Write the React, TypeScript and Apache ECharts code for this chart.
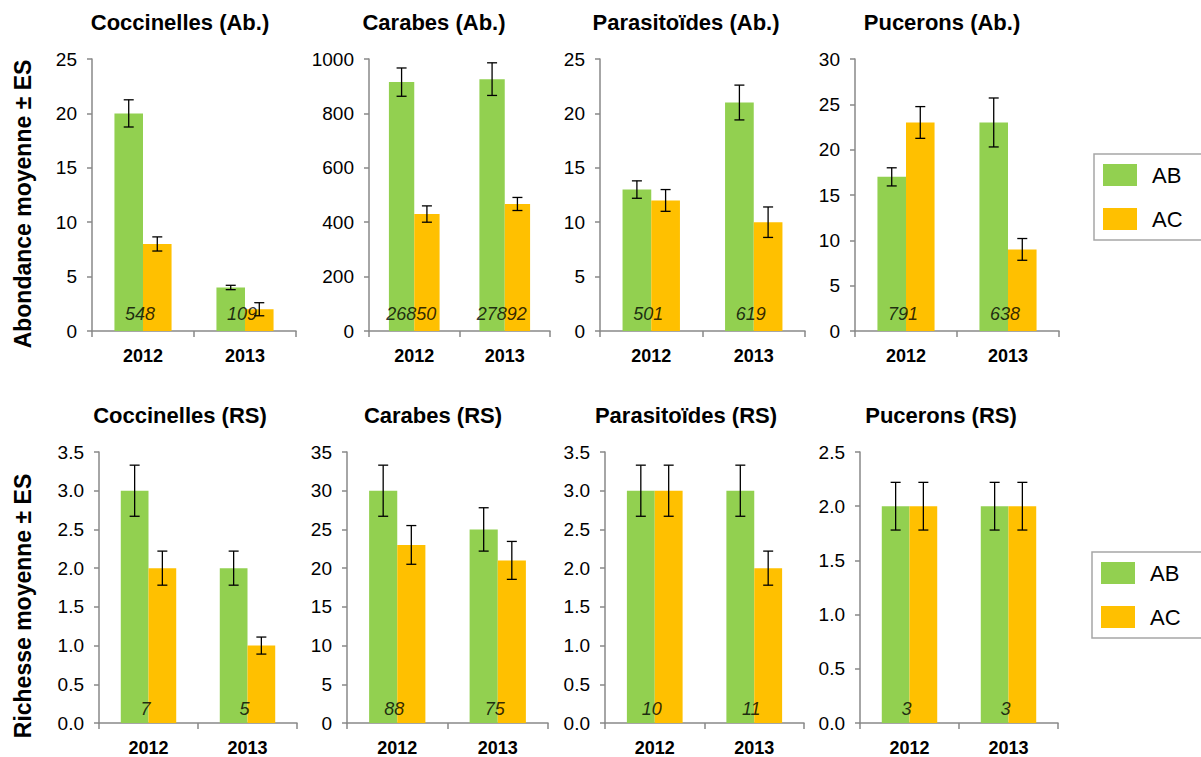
import React, { useEffect, useRef } from 'react';
import * as echarts from 'echarts';

// ---------- data ----------
const years = ['2012', '2013'];
const panelTitles = [
  'Coccinelles (Ab.)', 'Carabes (Ab.)', 'Parasitoïdes (Ab.)', 'Pucerons (Ab.)',
  'Coccinelles (RS)', 'Carabes (RS)', 'Parasitoïdes (RS)', 'Pucerons (RS)',
];
const seriesNames = ['AB', 'AC'];
const rowTitles = ['Abondance moyenne ± ES', 'Richesse moyenne ± ES'];

const meanAB = [[20, 4], [915, 926], [13, 21], [17, 23], [3, 2], [30, 25], [3, 3], [2, 2]];
const meanAC = [[8, 2], [430, 467], [12, 10], [23, 9], [2, 1], [23, 21], [3, 2], [2, 2]];
const errAB = [[1.25, 0.2], [52, 60], [0.8, 1.6], [1.0, 2.7], [0.33, 0.22], [3.3, 2.8], [0.33, 0.33], [0.22, 0.22]];
const errAC = [[0.65, 0.6], [30, 24], [1.0, 1.4], [1.75, 1.2], [0.22, 0.11], [2.5, 2.45], [0.33, 0.22], [0.22, 0.22]];
const counts = [['548', '109'], ['26850', '27892'], ['501', '619'], ['791', '638'], ['7', '5'], ['88', '75'], ['10', '11'], ['3', '3']];

const yMax = [25, 1000, 25, 30, 3.5, 35, 3.5, 2.5];
const yStep = [5, 200, 5, 5, 0.5, 5, 0.5, 0.5];

// ---------- layout ----------
const gridBoxes = [
  [92, 296, 59, 331], [369, 550, 59, 331], [600, 805, 59, 331], [855, 1059, 59, 331],
  [99, 297, 452, 723], [347, 548, 452, 723], [605, 804, 452, 723], [860, 1058, 452, 723],
];
const titleCenters = [
  [180, 22], [434, 22], [686, 22], [942, 22],
  [180, 415], [433, 415], [686, 415], [941, 415],
];
const rowTitlePos = [[23, 204], [23, 606]];
const legendPos = [[1094, 154], [1092, 552]];

const FONT = "'Liberation Sans', Arial, Helvetica, sans-serif";
const GREEN = '#92D050';
const ORANGE = '#FFC000';
const AXIS = '#898989';

const makeErrRender = (side: number) => (params: any, api: any) => {
  const x = api.value(0);
  const m = api.value(1);
  const e = api.value(2);
  const band = api.size([1, 0])[0];
  const off = side * band * 0.14;
  const top = api.coord([x, m + e]);
  const bot = api.coord([x, m - e]);
  const cx = top[0] + off;
  const hw = 5;
  const style = { stroke: '#000', lineWidth: 1.3 };
  return {
    type: 'group',
    children: [
      { type: 'line', shape: { x1: cx, y1: top[1], x2: cx, y2: bot[1] }, style },
      { type: 'line', shape: { x1: cx - hw, y1: top[1], x2: cx + hw, y2: top[1] }, style },
      { type: 'line', shape: { x1: cx - hw, y1: bot[1], x2: cx + hw, y2: bot[1] }, style },
    ],
  };
};

export default function App() {
  const ref = useRef<HTMLDivElement>(null);

  useEffect(() => {
    if (!ref.current) return;
    const chart = echarts.init(ref.current, undefined, { renderer: 'svg' });

    const grid: any[] = [];
    const xAxis: any[] = [];
    const yAxis: any[] = [];
    const series: any[] = [];
    const graphic: any[] = [];

    gridBoxes.forEach((b, i) => {
      grid.push({ left: b[0], top: b[2], width: b[1] - b[0], height: b[3] - b[2], containLabel: false });
      const row = i < 4 ? 0 : 1;
      xAxis.push({
        type: 'category',
        gridIndex: i,
        data: years,
        axisLine: { lineStyle: { color: AXIS, width: 1.5 } },
        axisTick: { show: true, length: 6, lineStyle: { color: AXIS, width: 1.5 } },
        axisLabel: { fontFamily: FONT, fontSize: 18, fontWeight: 'bold', color: '#000', margin: 16 },
      });
      const dec = yStep[i] < 1;
      yAxis.push({
        type: 'value',
        gridIndex: i,
        min: 0,
        max: yMax[i],
        interval: yStep[i],
        axisLine: { show: true, lineStyle: { color: AXIS, width: 1.5 } },
        axisTick: { show: true, length: 5, lineStyle: { color: AXIS, width: 1.5 } },
        splitLine: { show: false },
        axisLabel: {
          fontFamily: FONT, fontSize: 19, color: '#000', margin: 15,
          formatter: (v: number) => (dec ? v.toFixed(1) : String(v)),
        },
      });
      const bars = [meanAB[i], meanAC[i]];
      const errs = [errAB[i], errAC[i]];
      bars.forEach((vals, s) => {
        series.push({
          type: 'bar',
          name: seriesNames[s],
          xAxisIndex: i,
          yAxisIndex: i,
          data: vals,
          barWidth: '28%',
          barGap: '0%',
          itemStyle: { color: s === 0 ? GREEN : ORANGE },
          z: 2,
        });
      });
      bars.forEach((vals, s) => {
        series.push({
          type: 'custom',
          name: 'err' + seriesNames[s] + i,
          xAxisIndex: i,
          yAxisIndex: i,
          renderItem: makeErrRender(s === 0 ? -1 : 1),
          data: vals.map((v, k) => [k, v, errs[s][k]]),
          encode: { x: 0, y: 1 },
          z: 4,
          silent: true,
        });
      });
      series.push({
        type: 'scatter',
        name: 'n' + i,
        xAxisIndex: i,
        yAxisIndex: i,
        symbolSize: 0,
        data: [[0, 0], [1, 0]],
        silent: true,
        z: 5,
        label: {
          show: true,
          position: 'top',
          distance: row === 0 ? 8 : 5,
          offset: [-3, 0],
          fontFamily: FONT,
          fontSize: 18,
          fontStyle: 'italic',
          color: '#000',
          formatter: (p: any) => counts[i][p.dataIndex],
        },
      });

      graphic.push({
        type: 'text',
        x: titleCenters[i][0],
        y: titleCenters[i][1],
        style: {
          text: panelTitles[i],
          font: `bold 22px ${FONT}`,
          fill: '#000',
          textAlign: 'center',
          textVerticalAlign: 'middle',
        },
      });
    });

    rowTitles.forEach((t, r) => {
      graphic.push({
        type: 'text',
        x: rowTitlePos[r][0],
        y: rowTitlePos[r][1],
        rotation: Math.PI / 2,
        style: {
          text: t,
          font: `bold 23px ${FONT}`,
          fill: '#000',
          textAlign: 'center',
          textVerticalAlign: 'middle',
        },
      });
    });

    const legend = legendPos.map((p) => ({
      data: seriesNames.map((n) => ({ name: n, icon: 'rect' })),
      orient: 'vertical',
      left: p[0],
      top: p[1],
      padding: [10, 70, 10, 9],
      itemWidth: 34,
      itemHeight: 22,
      itemGap: 22,
      selectedMode: false,
      borderColor: '#A6A6A6',
      borderWidth: 1.5,
      textStyle: { fontFamily: FONT, fontSize: 22, color: '#000', lineHeight: 22, padding: [0, 0, 0, 10] },
    }));

    chart.setOption({
      animation: false,
      backgroundColor: '#fff',
      grid,
      xAxis,
      yAxis,
      series,
      legend,
      graphic,
    });

    return () => chart.dispose();
  }, []);

  return (
    <div
      ref={ref}
      style={{ position: 'fixed', left: 0, top: 0, width: 1201, height: 757, background: '#fff' }}
    />
  );
}
